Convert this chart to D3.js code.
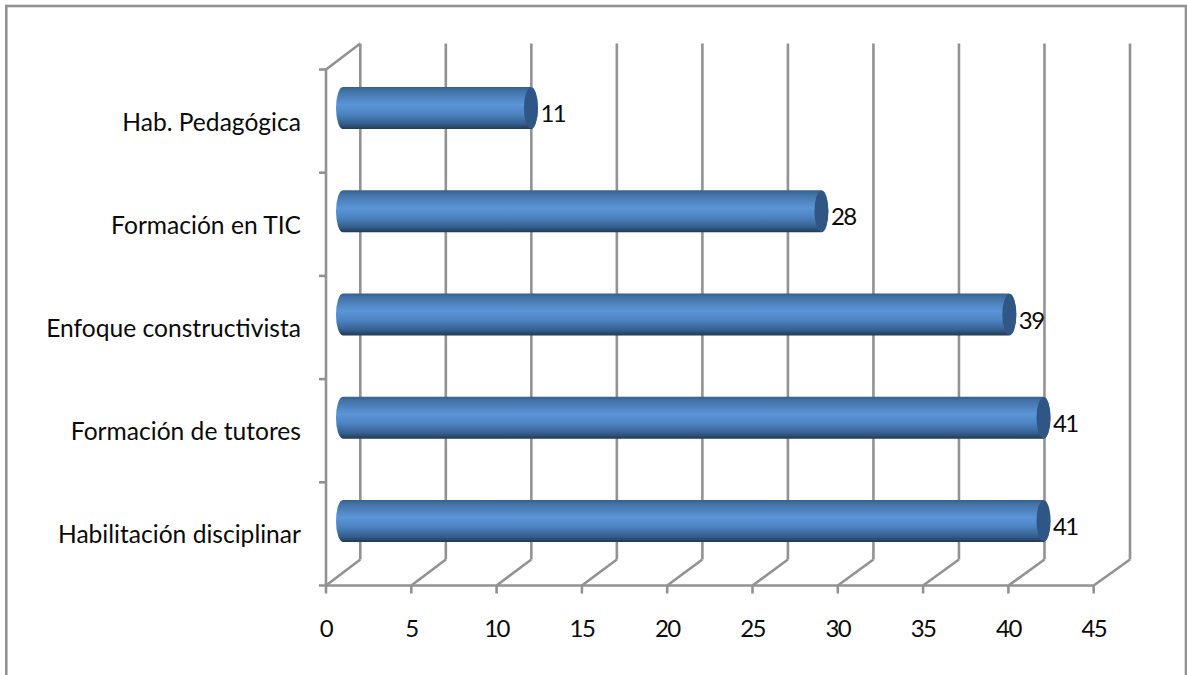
<!DOCTYPE html>
<html><head><meta charset="utf-8">
<script src="https://cdnjs.cloudflare.com/ajax/libs/d3/7.8.5/d3.min.js"></script>
<style>html,body{margin:0;padding:0;background:#fff;overflow:hidden}svg{display:block}text{font-family:Lato,"Open Sans",sans-serif;fill:#0a0a0a}
.num{font-size:24px;letter-spacing:-1.6px}.cat{font-size:24.6px}</style>
</head><body><svg id="c" width="1187" height="675"></svg>
<script>
const categories=["Hab. Pedagógica","Formación en TIC","Enfoque constructivista","Formación de tutores","Habilitación disciplinar"];
const values=[11,28,39,41,41];
const xTicks=[0,5,10,15,20,25,30,35,40,45];

const gray="#929292";
const svg=d3.select("#c");
const x=d3.scaleLinear().domain([0,45]).range([326,1093.7]);      // front plane
const xBack=d3.scaleLinear().domain([0,45]).range([360.3,1130]);  // back wall
const xMid=d3.scaleLinear().domain([0,45]).range([343,1111.85]);  // plane of the bar axes
const y=d3.scaleBand().domain(categories).range([69.5,585.5]);
const depthY=-26,barHalf=21,capRx=7;

const defs=svg.append("defs");
const lg=defs.append("linearGradient").attr("id","cyl").attr("x1",0).attr("x2",0).attr("y1",0).attr("y2",1);
[[0,"#33608f"],[0.1,"#4373a8"],[0.42,"#5b95d8"],[0.65,"#4c82c0"],[0.87,"#355f8e"],[0.96,"#264665"],[1,"#1f3a57"]]
 .forEach(([o,c])=>lg.append("stop").attr("offset",o).attr("stop-color",c));

svg.append("rect").attr("x",6.3).attr("y",6).attr("width",1179.7).attr("height",690)
  .attr("fill","#fff").attr("stroke",gray).attr("stroke-width",2.6);

const line=(x1,y1,x2,y2)=>svg.append("line").attr("x1",x1).attr("y1",y1).attr("x2",x2).attr("y2",y2)
  .attr("stroke",gray).attr("stroke-width",2.6);

const y0=y.range()[1], yTop=y.range()[0];
xTicks.forEach(t=>{
  line(xBack(t),y0+depthY,xBack(t),yTop+depthY);
  line(x(t),y0,xBack(t),y0+depthY);
  line(x(t),y0,x(t),y0+8);
});
line(x(0),yTop,x(0),y0);
line(x(0),yTop,xBack(0),yTop+depthY);
line(319,y0,x(45),y0);
categories.forEach(c=>line(319,y(c),x(0),y(c)));

svg.append("g").selectAll("text").data(xTicks).join("text").attr("class","num")
  .attr("x",d=>x(d)).attr("y",636.5).attr("text-anchor","middle").text(d=>d);
svg.append("g").selectAll("text").data(categories).join("text").attr("class","cat")
  .attr("x",301).attr("y",d=>y(d)+y.bandwidth()/2+9.5).attr("text-anchor","end").text(d=>d);

const bars=svg.append("g").selectAll("g").data(categories).join("g")
  .attr("transform",d=>`translate(0,${y(d)+y.bandwidth()/2+depthY/2})`);
bars.append("path").attr("fill","url(#cyl)")
  .attr("d",(d,i)=>{
    const a=xMid(0),b=xMid(values[i]);
    return `M${a},${-barHalf}L${b},${-barHalf}A${capRx},${barHalf} 0 0 1 ${b},${barHalf}L${a},${barHalf}A${capRx},${barHalf} 0 0 1 ${a},${-barHalf}Z`;
  });
bars.append("ellipse").attr("cx",(d,i)=>xMid(values[i])).attr("cy",0).attr("rx",capRx).attr("ry",barHalf-0.5).attr("fill","#2f5685");
bars.append("text").attr("class","num").attr("x",(d,i)=>xMid(values[i])+capRx+2.5).attr("y",14).text((d,i)=>values[i]);
</script></body></html>
